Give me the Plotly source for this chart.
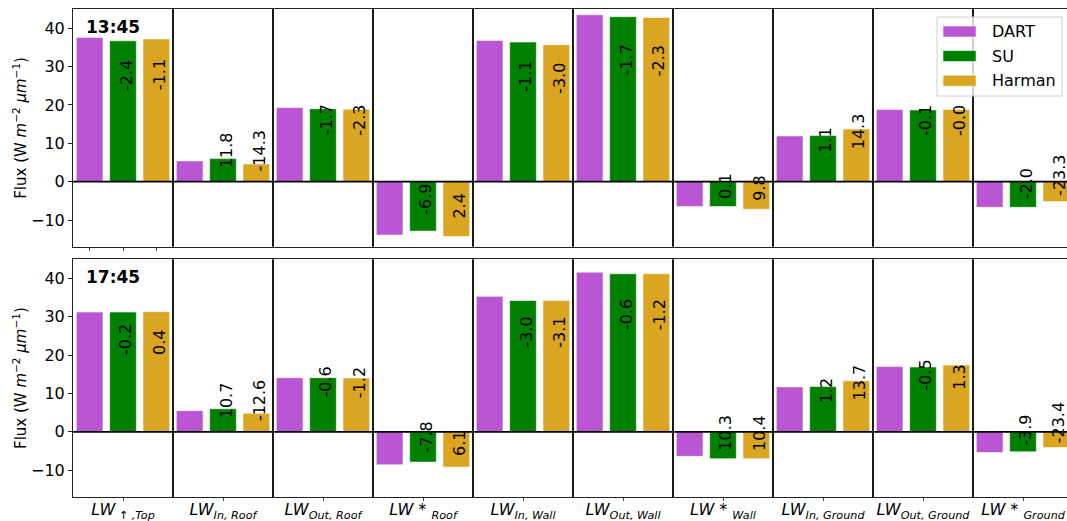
import plotly.graph_objects as go
from plotly.subplots import make_subplots

# ---------------- data ----------------
categories = [
    "<i>LW</i><sub> ↑ <i>,Top</i></sub>",
    "<i>LW</i><sub><i>In, Roof</i></sub>",
    "<i>LW</i><sub><i>Out, Roof</i></sub>",
    "<i>LW</i> * <sub><i>Roof</i></sub>",
    "<i>LW</i><sub><i>In, Wall</i></sub>",
    "<i>LW</i><sub><i>Out, Wall</i></sub>",
    "<i>LW</i> * <sub><i>Wall</i></sub>",
    "<i>LW</i><sub><i>In, Ground</i></sub>",
    "<i>LW</i><sub><i>Out, Ground</i></sub>",
    "<i>LW</i> * <sub><i>Ground</i></sub>",
]
times = ["13:45", "17:45"]
series_names = ["DART", "SU", "Harman"]

dart_1345 = [37.6, 5.4, 19.3, -13.9, 36.8, 43.5, -6.5, 11.9, 18.8, -6.7]
su_1345 = [36.7, 6.0, 19.0, -12.9, 36.4, 43.0, -6.5, 12.0, 18.7, -6.7]
harman_1345 = [37.2, 4.6, 18.9, -14.3, 35.7, 42.8, -7.2, 13.7, 18.8, -5.2]

dart_1745 = [31.2, 5.5, 14.1, -8.6, 35.3, 41.6, -6.4, 11.7, 17.0, -5.4]
su_1745 = [31.2, 6.0, 14.1, -7.9, 34.2, 41.2, -7.0, 11.8, 16.9, -5.2]
harman_1745 = [31.3, 4.8, 14.0, -9.2, 34.2, 41.2, -7.0, 13.3, 17.4, -4.1]

su_pct_1345 = ["-2.4", "11.8", "-1.7", "-6.9", "-1.1", "-1.7", "0.1", "1.1", "-0.1", "-2.0"]
harman_pct_1345 = ["-1.1", "-14.3", "-2.3", "2.4", "-3.0", "-2.3", "9.8", "14.3", "-0.0", "-23.3"]
su_pct_1745 = ["-0.2", "10.7", "-0.6", "-7.8", "-3.0", "-0.6", "10.3", "1.2", "-0.5", "-3.9"]
harman_pct_1745 = ["0.4", "-12.6", "-1.2", "6.1", "-3.1", "-1.2", "10.4", "13.7", "1.3", "-23.4"]

yticks = [-10, 0, 10, 20, 30, 40]

# ---------------- style / layout ----------------
colors = {"DART": "#BA55D3", "SU": "#008000", "Harman": "#DAA520"}
FONT = "DejaVu Sans"
EDGE = "rgba(255,255,255,0.55)"
n = len(categories)
xs = list(range(n))
slot = 1 / 3
offsets = {"DART": -slot, "SU": 0.0, "Harman": slot}

W, H = 1067, 521
ML, MR, MT, MB = 73, 0, 9, 24
PW, PH = W - ML - MR, H - MT - MB


def px2paper(px, py):
    return (px - ML) / PW, 1 - (py - MT) / PH


panels = [
    (times[0], [dart_1345, su_1345, harman_1345], [None, su_pct_1345, harman_pct_1345]),
    (times[1], [dart_1745, su_1745, harman_1745], [None, su_pct_1745, harman_pct_1745]),
]

fig = make_subplots(rows=2, cols=1)

annotations = []
shapes = []
for r, (tlabel, vals, pcts) in enumerate(panels, start=1):
    axs = "" if r == 1 else str(r)
    for name, v, p in zip(series_names, vals, pcts):
        fig.add_trace(
            go.Bar(
                x=xs, y=v, name=name, showlegend=False,
                marker=dict(color=colors[name], line=dict(color=EDGE, width=1)),
            ),
            row=r, col=1,
        )
        if p is not None:
            for i, (h, lab) in enumerate(zip(v, p)):
                annotations.append(dict(
                    x=i + offsets[name], y=0.65 * h - 0.9,
                    xref=f"x{axs}", yref=f"y{axs}",
                    text=lab, textangle=-90, showarrow=False,
                    xanchor="center", yanchor="bottom", xshift=3,
                    font=dict(family=FONT, size=16, color="black"),
                ))
    # category separators
    for i in range(n - 1):
        shapes.append(dict(type="line", xref=f"x{axs}", yref=f"y{axs} domain",
                           x0=i + 0.5, x1=i + 0.5, y0=0, y1=1,
                           line=dict(color="black", width=1.8), layer="above"))
    # zero line
    shapes.append(dict(type="line", xref=f"x{axs} domain", yref=f"y{axs}",
                       x0=0, x1=1, y0=0, y1=0,
                       line=dict(color="black", width=1.8), layer="above"))
    # time label
    annotations.append(dict(
        x=0.011, y=0.975, xref=f"x{axs} domain", yref=f"y{axs} domain",
        text=f"<b>{tlabel}</b>", showarrow=False, xanchor="left", yanchor="top",
        font=dict(family=FONT, size=17, color="black"),
    ))

# ---- legend (drawn like matplotlib's: wide patches, semi-transparent box) ----
lx0, ly0 = px2paper(937, 17)
lx1, ly1 = px2paper(1062, 96)
shapes.append(dict(type="rect", xref="paper", yref="paper", x0=lx0, x1=lx1, y0=ly1, y1=ly0,
                   fillcolor="rgba(255,255,255,0.8)", line=dict(color="#d0d0d0", width=1),
                   layer="above"))
for k, name in enumerate(series_names):
    cy = 31.5 + 24.6 * k
    px0, py0 = px2paper(943, cy - 5.5)
    px1, py1 = px2paper(976, cy + 5.5)
    shapes.append(dict(type="rect", xref="paper", yref="paper", x0=px0, x1=px1, y0=py1, y1=py0,
                       fillcolor=colors[name], line=dict(color=EDGE, width=1), layer="above"))
    tx, ty = px2paper(990, cy)
    annotations.append(dict(x=tx, y=ty, xref="paper", yref="paper", text=name,
                            showarrow=False, xanchor="left", yanchor="middle",
                            font=dict(family=FONT, size=16, color="black")))

xrange = [-0.5, -0.5 + PW / 100]
axis_common = dict(showgrid=False, zeroline=False, showline=True, linecolor="#222",
                   linewidth=1, mirror=True, automargin=False)
ytitle = "Flux (W <i>m</i><sup>−2</sup> <i>μm</i><sup>−1</sup>)"
gap = 12.3 / PH
top_dom = [0.5 + gap / 2, 1.0]
bot_dom = [0.0, 0.5 - gap / 2]

fig.update_layout(
    width=W, height=H,
    margin=dict(l=ML, r=MR, t=MT, b=MB),
    paper_bgcolor="white", plot_bgcolor="white",
    barmode="group", bargap=0.0, bargroupgap=0.2,
    font=dict(family=FONT, size=16, color="black"),
    showlegend=False,
    annotations=annotations,
    shapes=shapes,
    xaxis=dict(domain=[0, 1], range=xrange, tickvals=[-slot, 0, slot], showticklabels=False,
               ticks="outside", ticklen=3, tickcolor="#444", **axis_common),
    xaxis2=dict(domain=[0, 1], range=xrange, tickvals=xs, ticktext=categories,
                ticks="outside", ticklen=3, tickcolor="#444", ticklabelstandoff=-5,
                tickfont=dict(family=FONT, size=16), **axis_common),
    yaxis=dict(domain=top_dom, range=[-17, 45], tickvals=yticks,
               ticks="outside", ticklen=4, tickcolor="#222",
               tickfont=dict(family=FONT, size=16),
               title=dict(text=ytitle, font=dict(family=FONT, size=15), standoff=0),
               **axis_common),
    yaxis2=dict(domain=bot_dom, range=[-17, 45], tickvals=yticks,
                ticks="outside", ticklen=4, tickcolor="#222",
                tickfont=dict(family=FONT, size=16),
                title=dict(text=ytitle, font=dict(family=FONT, size=15), standoff=0),
                **axis_common),
)

fig.write_html(
    "out.html",
    config={"displayModeBar": False},
    post_script="document.body.style.margin='0';document.body.style.overflow='hidden';",
)
